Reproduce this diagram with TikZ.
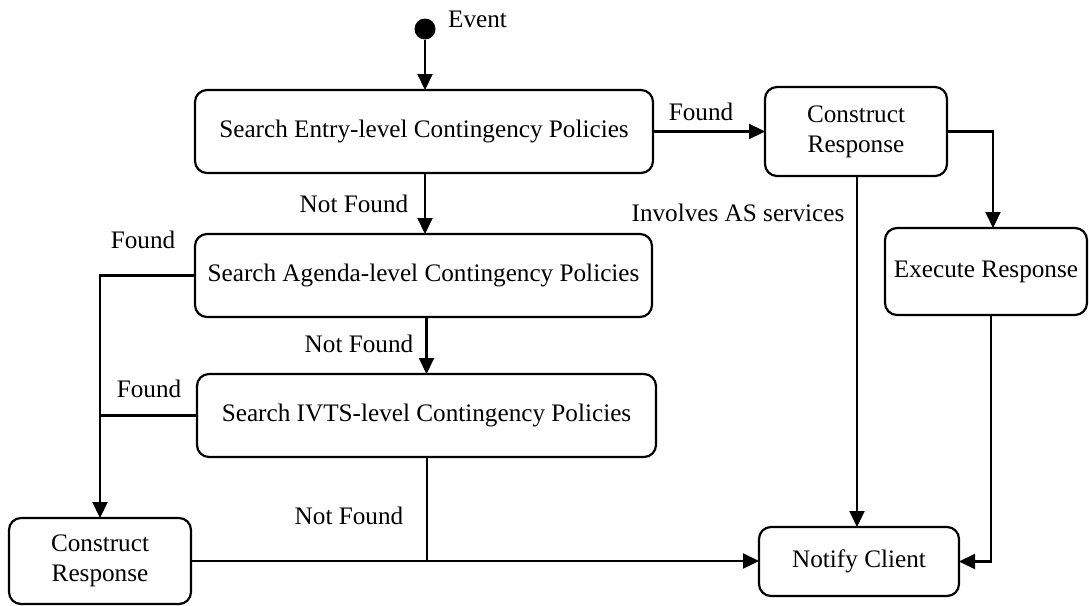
\documentclass[tikz,border=0pt]{standalone}
\usepackage{fontspec}
\setmainfont{Liberation Serif}
\usetikzlibrary{arrows.meta}
\begin{document}
\begin{tikzpicture}[x=1pt,y=-1pt,
  font=\fontsize{25.2}{30}\selectfont,
  state/.style={draw, line width=2.2pt, rounded corners=12pt, align=center,
    inner sep=0pt, outer sep=0pt},
  lbl/.style={inner sep=0pt},
  conn/.style={line width=2.2pt},
  arr/.style={conn, -{Triangle[length=16pt,width=15pt]}}]
\useasboundingbox (0,0) rectangle (1089,605);

% initial state
\node[circle, fill=black, minimum size=21pt, inner sep=0pt] (start) at (425,29) {};
\node[lbl, anchor=west] (ev) at (448,19) {Event};

% states
\node[state, minimum width=458pt, minimum height=83pt] (b1) at (424,131.5)
  {Search Entry-level Contingency Policies};
\node[state, minimum width=457pt, minimum height=83pt] (b2) at (423.5,275.5)
  {Search Agenda-level Contingency Policies};
\node[state, minimum width=459pt, minimum height=83pt] (b3) at (426.5,415.5)
  {Search IVTS-level Contingency Policies};
\node[state, minimum width=182pt, minimum height=86pt] (crL) at (100,561)
  {Construct\\Response};
\node[state, minimum width=182pt, minimum height=89pt] (crR) at (856,131.5)
  {Construct\\Response};
\node[state, minimum width=202pt, minimum height=87pt] (ex) at (986,271.5)
  {Execute Response};
\node[state, minimum width=200pt, minimum height=69pt] (nc) at (859,561.5)
  {Notify Client};

% transitions
\draw[arr] (start.south) -- (start.south |- b1.north);
\draw[arr] ([xshift=1pt]b1.south) -- ([xshift=1pt]b1.south |- b2.north);
\draw[arr] ([xshift=3pt]b2.south) -- ([xshift=3pt]b2.south |- b3.north);
\draw[arr] (b1.east) -- (b1.east -| crR.west);
\draw[arr] ([xshift=1pt]crR.south) -- ([xshift=1pt]crR.south |- nc.north);
\draw[arr] (crR.east) -| ([xshift=7pt]ex.north);
\draw[arr] ([xshift=5pt]ex.south) |- (nc.east);
\draw[arr] (b2.west) -| (crL.north);
\draw[conn] (b3.west) -- (b3.west -| crL.north);
\draw[arr] (crL.east) -- (crL.east -| nc.west);
\draw[conn] ([xshift=0.5pt]b3.south) -- ([xshift=0.5pt]b3.south |- crL.east);

% transition labels
\node[lbl] (lf1) at (701,112) {Found};
\node[lbl] (lnf1) at (354,204) {Not Found};
\node[lbl] (lf2) at (143,240) {Found};
\node[lbl] (lnf2) at (359,344) {Not Found};
\node[lbl] (lf3) at (149,389) {Found};
\node[lbl] (lnf3) at (349,516) {Not Found};
\node[lbl] (las) at (738,213) {Involves AS services};
\end{tikzpicture}
\end{document}
